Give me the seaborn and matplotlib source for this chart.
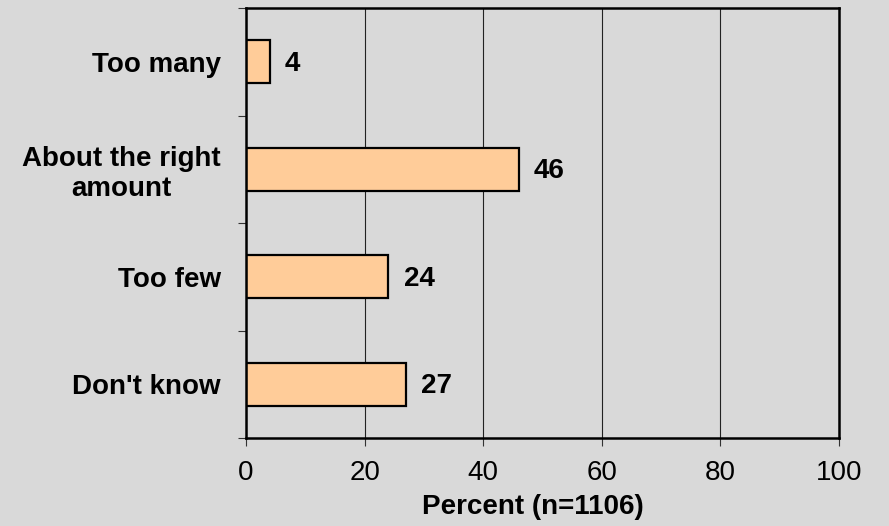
import matplotlib
matplotlib.use("Agg")
import matplotlib.pyplot as plt
import seaborn as sns
import pandas as pd

categories = ["Too many", "About the right\namount", "Too few", "Don't know"]
percents = [4, 46, 24, 27]
x_ticks = [0, 20, 40, 60, 80, 100]
x_label = "Percent (n=1106)"

bg = "#D9D9D9"
bar_color = "#FFCC99"

sns.set_theme(style="white")
plt.rcParams["font.family"] = ["Liberation Sans", "DejaVu Sans"]
plt.rcParams["text.color"] = "black"
plt.rcParams["axes.labelcolor"] = "black"
plt.rcParams["xtick.color"] = "black"
plt.rcParams["ytick.color"] = "black"

df = pd.DataFrame({"category": categories, "percent": percents})

fig = plt.figure(figsize=(8.89, 5.26), dpi=100, facecolor=bg)
ax = fig.add_axes([246 / 889, 1 - 438 / 526, (839 - 246) / 889, (438 - 8) / 526])
ax.set_facecolor(bg)

sns.barplot(data=df, x="percent", y="category", orient="h", color=bar_color,
            edgecolor="black", linewidth=1.6, width=0.4, saturation=1, ax=ax)

ax.set_xlim(0, 100)
ax.set_ylim(len(categories) - 0.5, -0.5)

# vertical gridlines
ax.set_xticks(x_ticks)
ax.set_xticklabels([str(t) for t in x_ticks], fontsize=20, color="black")
ax.xaxis.grid(True, color="#222222", linewidth=0.8)
ax.set_axisbelow(True)
ax.tick_params(axis="x", direction="out", length=6, width=0.8, color="#333333",
               labelcolor="black", pad=10, bottom=True)

# category labels centred on bars, tick marks between categories
ax.set_yticks(range(len(categories)))
ax.set_yticklabels(categories, fontsize=20, fontweight="bold",
                   multialignment="center", color="black")
ax.tick_params(axis="y", length=0, pad=18, labelcolor="black")
ax.set_yticks([i - 0.5 for i in range(len(categories) + 1)], minor=True)
ax.tick_params(axis="y", which="minor", direction="out", length=6, width=0.8,
               color="#333333", left=True)

for s in ax.spines.values():
    s.set_visible(True)
    s.set_color("black")
    s.set_linewidth(1.8)

# value labels
for i, v in enumerate(percents):
    ax.annotate(str(v), xy=(v, i), xytext=(11, -1.5), textcoords="offset points",
                ha="left", va="center", fontsize=20, fontweight="bold", color="black")

ax.set_ylabel("")
ax.set_xlabel(x_label, fontsize=20, fontweight="bold", color="black")
ax.xaxis.set_label_coords(0.484, -0.13)

fig.savefig("out.png", dpi=100, facecolor=bg)
